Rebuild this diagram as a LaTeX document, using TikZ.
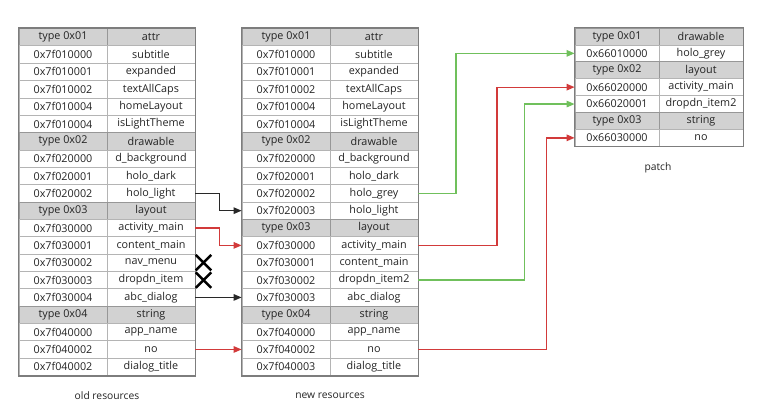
\documentclass[tikz,border=0pt]{standalone}
\usepackage{fontspec}
\setmainfont{Open Sans}
\usetikzlibrary{arrows.meta,shapes.misc}
\definecolor{cellline}{RGB}{180,180,180}
\definecolor{frameline}{RGB}{125,125,125}
\definecolor{headfill}{RGB}{210,210,210}
\definecolor{linkred}{RGB}{210,58,58}
\definecolor{linkgreen}{RGB}{112,192,92}
\definecolor{linkblack}{RGB}{40,40,40}
\definecolor{celltext}{RGB}{35,35,35}
\tikzset{
  cell/.style={draw=cellline, line width=0.8pt, inner sep=0pt, text=celltext,
    minimum height=17.35pt, font=\fontsize{10.8}{12}\selectfont},
  oldcell/.style={cell, minimum width=88pt},
  patchcell/.style={cell, minimum width=84pt, minimum height=16.9pt},
  hdrow/.style={fill=headfill, draw=frameline!80},
  datarow/.style={},
  frame/.style={draw=frameline, line width=1.4pt},
  link/.style={line width=1.3pt, -{Triangle[length=8pt,width=6.5pt]}},
  gone/.style={cross out, draw=black, line width=2.5pt, minimum size=13pt, inner sep=0pt},
  caption/.style={font=\fontsize{10.3}{12}\selectfont, text=celltext}
}
\begin{document}
\begin{tikzpicture}[x=1pt,y=-1pt]
  \useasboundingbox (0,0) rectangle (763,407);
  % old resources
  \foreach \kind/\id/\name [count=\i from 0] in {
      hdrow/type 0x01/attr, datarow/0x7f010000/subtitle, datarow/0x7f010001/expanded,
      datarow/0x7f010002/textAllCaps, datarow/0x7f010004/homeLayout,
      datarow/0x7f010004/isLightTheme, hdrow/type 0x02/drawable,
      datarow/0x7f020000/d\_background, datarow/0x7f020001/holo\_dark,
      datarow/0x7f020002/holo\_light, hdrow/type 0x03/layout,
      datarow/0x7f030000/activity\_main, datarow/0x7f030001/content\_main,
      datarow/0x7f030002/nav\_menu, datarow/0x7f030003/dropdn\_item,
      datarow/0x7f030004/abc\_dialog, hdrow/type 0x04/string,
      datarow/0x7f040000/app\_name, datarow/0x7f040002/no,
      datarow/0x7f040002/dialog\_title} {
    \node[oldcell, \kind] (oa\i) at (63, {28.5+17.35*(\i+0.5)}) {\id};
    \node[oldcell, \kind] (ob\i) at (151, {28.5+17.35*(\i+0.5)}) {\name};
  }
  \draw[frame] (oa0.north west) rectangle (ob19.south east);
  % new resources
  \foreach \kind/\id/\name [count=\i from 0] in {
      hdrow/type 0x01/attr, datarow/0x7f010000/subtitle, datarow/0x7f010001/expanded,
      datarow/0x7f010002/textAllCaps, datarow/0x7f010004/homeLayout,
      datarow/0x7f010004/isLightTheme, hdrow/type 0x02/drawable,
      datarow/0x7f020000/d\_background, datarow/0x7f020001/holo\_dark,
      datarow/0x7f020002/holo\_grey, datarow/0x7f020003/holo\_light,
      hdrow/type 0x03/layout, datarow/0x7f030000/activity\_main,
      datarow/0x7f030001/content\_main, datarow/0x7f030002/dropdn\_item2,
      datarow/0x7f030003/abc\_dialog, hdrow/type 0x04/string,
      datarow/0x7f040000/app\_name, datarow/0x7f040002/no,
      datarow/0x7f040003/dialog\_title} {
    \node[oldcell, \kind] (na\i) at (286, {28.5+17.35*(\i+0.5)}) {\id};
    \node[oldcell, \kind] (nb\i) at (374, {28.5+17.35*(\i+0.5)}) {\name};
  }
  \draw[frame] (na0.north west) rectangle (nb19.south east);
  % patch
  \foreach \kind/\id/\name [count=\i from 0] in {
      hdrow/type 0x01/drawable, datarow/0x66010000/holo\_grey,
      hdrow/type 0x02/layout, datarow/0x66020000/activity\_main,
      datarow/0x66020001/dropdn\_item2, hdrow/type 0x03/string,
      datarow/0x66030000/no} {
    \node[patchcell, \kind] (pa\i) at (617, {28+16.9*(\i+0.5)}) {\id};
    \node[patchcell, \kind] (pb\i) at (701, {28+16.9*(\i+0.5)}) {\name};
  }
  \draw[frame] (pa0.north west) rectangle (pb6.south east);
  % captions
  \node[caption] (oldcap) at (107, 396) {old resources};
  \node[caption] (newcap) at (330, 396) {new resources};
  \node[caption] (patchcap) at (658, 168) {patch};
  % removed entries
  \node[gone] (xnav) at (203.5, {28.5+17.35*13.5}) {};
  \node[gone] (xdrop) at (203.5, {28.5+17.35*14.5}) {};
  % old -> new
  \draw[link, linkblack] (ob9.east) -- ++(24,0) |- (na10.west);
  \draw[link, linkred] (ob11.east) -- ++(24,0) |- (na12.west);
  \draw[link, linkblack] (ob15.east) -- (na15.west);
  \draw[link, linkred] (ob18.east) -- (na18.west);
  % new -> patch
  \draw[link, linkgreen] (nb9.east) -- ++(37.7,0) |- (pa1.west);
  \draw[link, linkred] (nb12.east) -- ++(78.7,0) |- (pa3.west);
  \draw[link, linkgreen] (nb14.east) -- ++(106.3,0) |- (pa4.west);
  \draw[link, linkred] (nb18.east) -- ++(128,0) |- (pa6.west);
\end{tikzpicture}
\end{document}
